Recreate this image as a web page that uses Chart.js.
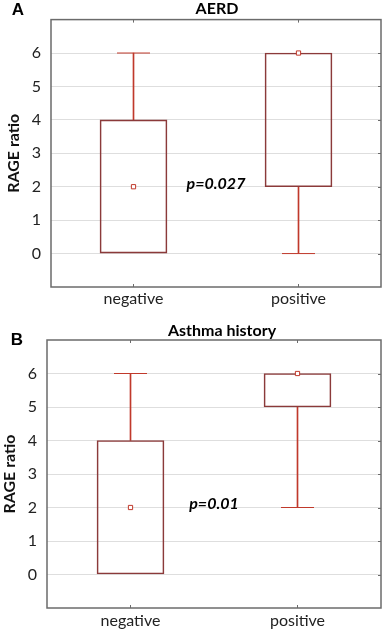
<!DOCTYPE html>
<html lang="en">
<head>
  <meta charset="UTF-8" />
  <title>RAGE ratio</title>
  <script src="https://cdn.jsdelivr.net/npm/chart.js"></script>
  <style>
    body { margin: 0; background: #fff; }
    .panel { width: 387px; height: 316px; }
    canvas { display: block; }
  </style>
</head>
<body>
  <div class="panel"><canvas id="chartA" width="387" height="316"></canvas></div>
  <div class="panel"><canvas id="chartB" width="387" height="316"></canvas></div>

  <script>
    const categories = ['negative', 'positive'];
    const yTicks = [0, 1, 2, 3, 4, 5, 6];

    // panel A - AERD
    const aerdMin = [0, 0];
    const aerdQ1 = [0, 2];
    const aerdMedian = [2, 6];
    const aerdQ3 = [4, 6];
    const aerdMax = [6, 6];

    // panel B - asthma history
    const asthmaMin = [0, 2];
    const asthmaQ1 = [0, 5];
    const asthmaMedian = [2, 6];
    const asthmaQ3 = [4, 6];
    const asthmaMax = [6, 6];

    const boxColor = '#8b3a3a';
    const whiskerColor = '#c0392b';
    const fontFamily = 'Lato, "Open Sans", sans-serif';

    // draws frame, inner ticks, panel letter, title and p value
    const extras = {
      id: 'extras',
      afterDraw(chart, args, opts) {
        const ctx = chart.ctx;
        const a = chart.chartArea;
        const xs = chart.scales.x;
        const ys = chart.scales.y;
        ctx.save();
        ctx.strokeStyle = '#6b6b6b';
        ctx.lineWidth = 1.5;
        ctx.strokeRect(a.left, a.top, a.right - a.left, a.bottom - a.top);

        ctx.lineWidth = 1;
        ctx.beginPath();
        categories.forEach((c, i) => {
          const px = Math.floor(xs.getPixelForValue(i)) + 0.5;
          ctx.moveTo(px, a.top); ctx.lineTo(px, a.top + 3);
          ctx.moveTo(px, a.bottom); ctx.lineTo(px, a.bottom - 3);
        });
        yTicks.forEach(v => {
          const py = Math.round(ys.getPixelForValue(v)) + 0.5;
          ctx.moveTo(a.right, py); ctx.lineTo(a.right - 3, py);
        });
        ctx.stroke();

        ctx.fillStyle = '#000';
        ctx.textBaseline = 'middle';
        ctx.textAlign = 'center';
        ctx.font = 'bold 17px "Liberation Sans", Arial, sans-serif';
        ctx.fillText(opts.letter, opts.letterX, opts.letterY);

        ctx.font = 'bold 16px ' + fontFamily;
        ctx.fillText(opts.title, (a.left + a.right) / 2 + opts.titleShift, opts.titleY);

        ctx.font = 'italic bold 16px ' + fontFamily;
        const mx = (xs.getPixelForValue(0) + xs.getPixelForValue(1)) / 2;
        ctx.fillText(opts.pText, mx, ys.getPixelForValue(opts.pAt));
        ctx.restore();
      }
    };

    function makeChart(id, stats, cfg) {
      const upper = stats.max.map((m, i) => m > stats.q3[i] ? [stats.q3[i], m] : null);
      const lower = stats.min.map((m, i) => m < stats.q1[i] ? [m, stats.q1[i]] : null);
      const upperCap = stats.max.map((m, i) => m > stats.q3[i] ? m : null);
      const lowerCap = stats.min.map((m, i) => m < stats.q1[i] ? m : null);

      return new Chart(document.getElementById(id).getContext('2d'), {
        data: {
          labels: categories,
          datasets: [
            {
              type: 'bar',
              data: stats.q1.map((q, i) => [q, stats.q3[i]]),
              backgroundColor: 'rgba(255,255,255,0)',
              borderColor: boxColor,
              borderWidth: 1,
              borderSkipped: false,
              barThickness: 67,
              grouped: false,
              order: 3
            },
            {
              type: 'bar',
              data: upper,
              backgroundColor: whiskerColor,
              barThickness: 1,
              grouped: false,
              order: 4
            },
            {
              type: 'bar',
              data: lower,
              backgroundColor: whiskerColor,
              barThickness: 1,
              grouped: false,
              order: 4
            },
            {
              type: 'line',
              data: upperCap,
              showLine: false,
              pointStyle: 'line',
              pointRadius: 16.5,
              borderColor: whiskerColor,
              borderWidth: 1,
              order: 2
            },
            {
              type: 'line',
              data: lowerCap,
              showLine: false,
              pointStyle: 'line',
              pointRadius: 16.5,
              borderColor: whiskerColor,
              borderWidth: 1,
              order: 2
            },
            {
              type: 'line',
              data: stats.median,
              showLine: false,
              pointStyle: 'rect',
              pointRadius: 3,
              borderColor: whiskerColor,
              backgroundColor: '#fff',
              borderWidth: 1,
              order: 1
            }
          ]
        },
        options: {
          responsive: false,
          animation: false,
          events: [],
          layout: { autoPadding: false, padding: { top: cfg.top, right: 6, left: 0, bottom: 0 } },
          plugins: {
            legend: { display: false },
            tooltip: { enabled: false },
            extras: cfg.extras
          },
          scales: {
            x: {
              afterFit: s => { s.height = cfg.xHeight; },
              grid: { display: false, drawTicks: false },
              border: { display: false },
              ticks: { color: '#222', padding: cfg.xPad, font: { family: fontFamily, size: 16 } }
            },
            y: {
              min: -1,
              max: 7,
              afterFit: s => { s.width = cfg.yWidth; },
              afterBuildTicks: s => { s.ticks = yTicks.map(v => ({ value: v })); },
              grid: { color: '#dedede', drawTicks: false },
              border: { display: false },
              ticks: { color: '#222', padding: 10, font: { family: fontFamily, size: 16 } },
              title: {
                display: true,
                text: 'RAGE ratio',
                color: '#111',
                padding: { top: cfg.yTitlePad, bottom: 0 },
                font: { family: fontFamily, size: 16, weight: 'bold' }
              }
            }
          }
        },
        plugins: [extras]
      });
    }

    makeChart('chartA',
      { min: aerdMin, q1: aerdQ1, median: aerdMedian, q3: aerdQ3, max: aerdMax },
      {
        top: 17, xHeight: 29, yWidth: 51, xPad: 2, yTitlePad: 4,
        extras: { letter: 'A', letterX: 18, letterY: 10, title: 'AERD', titleShift: 1, titleY: 9, pText: 'p=0.027', pAt: 2.1 }
      });

    makeChart('chartB',
      { min: asthmaMin, q1: asthmaQ1, median: asthmaMedian, q3: asthmaQ3, max: asthmaMax },
      {
        top: 24, xHeight: 24, yWidth: 47, xPad: 3, yTitlePad: 0,
        extras: { letter: 'B', letterX: 17, letterY: 24, title: 'Asthma history', titleShift: 8, titleY: 15, pText: 'p=0.01', pAt: 2.1 }
      });
  </script>
</body>
</html>
